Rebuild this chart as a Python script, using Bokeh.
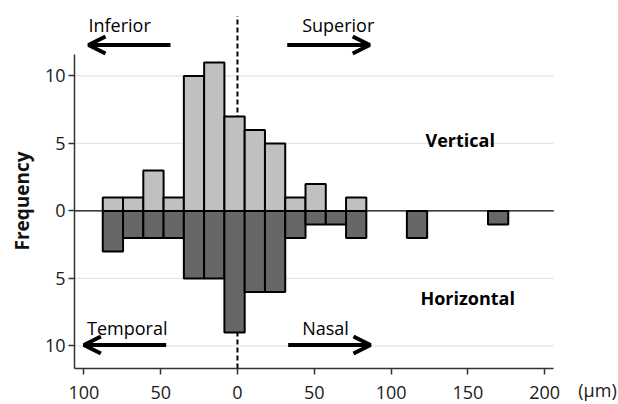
import math
from bokeh.plotting import figure
from bokeh.models import (Range1d, FixedTicker, Label, Arrow, OpenHead, ColumnDataSource, Title)
from bokeh.embed import file_html
from bokeh.resources import INLINE

# ---- data ----
bin_centers = [-81.1, -67.9, -54.7, -41.5, -28.3, -15.1, -1.9, 11.3, 24.5, 37.7, 50.9, 64.1, 77.3, 116.9, 169.7]
vertical    = [1, 1, 3, 1, 10, 11, 7, 6, 5, 1, 2, 0, 1, 0, 0]
horizontal  = [3, 2, 2, 2, 5, 5, 9, 6, 6, 2, 1, 1, 2, 2, 1]
bin_width = 13.2
x_ticks = [-100, -50, 0, 50, 100, 150, 200]
x_tick_labels = ["100", "50", "0", "50", "100", "150", "200"]
y_ticks = [-10, -5, 0, 5, 10]
y_tick_labels = ["10", "5", "0", "5", "10"]
grid_levels = [-10, -5, 5, 10]

FONT = "Open Sans"
X0, X1 = -106.1, 205.9      # axis extent
Y0, Y1 = -11.67, 11.6

p = figure(width=618, height=404, output_backend="svg", toolbar_location=None,
           x_range=Range1d(X0, 234.4), y_range=Range1d(Y0, 15.22),
           min_border_left=74, min_border_right=21, min_border_top=5, min_border_bottom=36)
p.outline_line_color = None
p.background_fill_color = "white"
p.border_fill_color = "white"

# axes
p.xaxis.ticker = FixedTicker(ticks=x_ticks)
p.xaxis.major_label_overrides = dict(zip(x_ticks, x_tick_labels))
p.xaxis.bounds = (X0, X1)
p.yaxis.ticker = FixedTicker(ticks=y_ticks)
p.yaxis.major_label_overrides = dict(zip(y_ticks, y_tick_labels))
p.yaxis.bounds = (Y0, Y1)
for ax in (p.xaxis, p.yaxis):
    ax.axis_line_color = "#333333"
    ax.axis_line_width = 1.5
    ax.major_tick_line_color = "#333333"
    ax.major_tick_line_width = 1.5
    ax.major_tick_out = 6
    ax.major_tick_in = 0
    ax.minor_tick_line_color = None
    ax.major_label_text_font = FONT
    ax.major_label_text_font_size = "18px"
    ax.major_label_text_color = "#1a1a1a"
p.xaxis.major_label_standoff = 11
p.yaxis.major_label_standoff = 3

# unit label at the right end of the x axis row
xa = p.below[0]
xa.axis_label = "(µm)"
xa.axis_label_text_font = FONT
xa.axis_label_text_font_size = "18px"
xa.axis_label_text_font_style = "normal"
xa.axis_label_text_color = "#1a1a1a"
xa.axis_label_standoff = -24
xa.axis_label_align = "end"

# y-axis title
p.add_layout(Title(text="Frequency", text_font=FONT, text_font_size="19px",
                   text_font_style="bold", text_color="#111111", align="left", offset=118,
                   vertical_align="top", standoff=10), "left")

p.xgrid.grid_line_color = None
p.ygrid.grid_line_color = None

# horizontal grid lines, limited to the axis extent
p.segment(x0=[X0] * len(grid_levels), y0=grid_levels, x1=[X1] * len(grid_levels),
          y1=grid_levels, line_color="#e5e5e5", line_width=1.3)

# dashed zero line (behind bars)
p.segment(x0=[0], y0=[Y0], x1=[0], y1=[14.44], line_color="black",
          line_width=2, line_dash="5 3")

# bars
up = [(c, v) for c, v in zip(bin_centers, vertical) if v > 0]
dn = [(c, v) for c, v in zip(bin_centers, horizontal) if v > 0]
src_up = ColumnDataSource(dict(x=[a for a, _ in up], top=[b for _, b in up]))
src_dn = ColumnDataSource(dict(x=[a for a, _ in dn], bottom=[-b for _, b in dn]))
p.vbar(x="x", top="top", bottom=0, width=bin_width, source=src_up,
       fill_color="#c0c0c0", line_color="black", line_width=2)
p.vbar(x="x", top=0, bottom="bottom", width=bin_width, source=src_dn,
       fill_color="#676767", line_color="black", line_width=2)

# zero baseline
p.segment(x0=[X0], y0=[0], x1=[X1], y1=[0], line_color="black", line_width=1.2)

# direction texts
def lab(x, y, t, bold=False, size="18px"):
    p.add_layout(Label(x=x, y=y, text=t, text_font=FONT, text_font_size=size,
                       text_font_style="bold" if bold else "normal",
                       text_color="black", text_baseline="alphabetic",
                       text_align="left"))

lab(-97.0, 13.76, "Inferior")
lab(42.1, 13.76, "Superior")
lab(-97.9, -8.69, "Temporal")
lab(42.1, -8.69, "Nasal")
lab(122.4, 5.26, "Vertical", bold=True)
lab(119.1, -6.42, "Horizontal", bold=True)

# arrows
def arr(x0, x1, y):
    p.add_layout(Arrow(end=OpenHead(size=17, line_width=4, line_color="black"),
                       x_start=x0, y_start=y, x_end=x1, y_end=y,
                       line_width=4, line_color="black"))

arr(-43.6, -97.0, 12.3)
arr(32.4, 86.1, 12.3)
arr(-46.4, -100.0, -9.93)
arr(33.0, 86.6, -9.93)

open("out.html", "w").write(file_html(p, INLINE))
